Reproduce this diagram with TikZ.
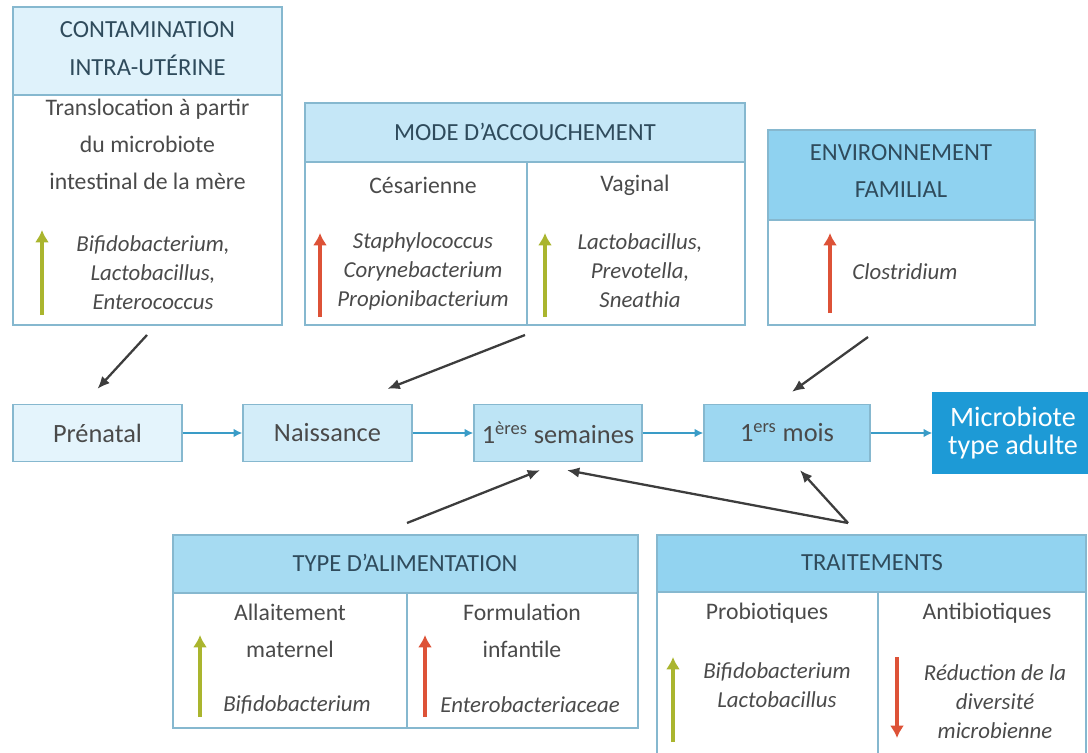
\documentclass[tikz,border=0pt]{standalone}
\usepackage{fontspec}
\setmainfont{Carlito}
\usepackage{tikz}
\usetikzlibrary{arrows.meta,calc,positioning}
\definecolor{bord}{HTML}{86B8CF}
\definecolor{hdrA}{HTML}{DFF2FB}
\definecolor{hdrB}{HTML}{C5E7F7}
\definecolor{hdrC}{HTML}{8FD2F0}
\definecolor{hdrD}{HTML}{A6DBF2}
\definecolor{hdrE}{HTML}{92D3F0}
\definecolor{stA}{HTML}{E4F4FC}
\definecolor{stB}{HTML}{D3EDF9}
\definecolor{stC}{HTML}{BDE4F5}
\definecolor{stD}{HTML}{9DD7F1}
\definecolor{stE}{HTML}{1D9AD6}
\definecolor{flowc}{HTML}{3A9CC7}
\definecolor{inflc}{HTML}{3D3D3D}
\definecolor{hdrtxt}{HTML}{2F4B5C}
\definecolor{bodytxt}{HTML}{4A4A4A}
\definecolor{vert}{HTML}{AAB52E}
\definecolor{rouge}{HTML}{DD5237}
\tikzset{
  tbl/.style={draw=bord,line width=0.8pt},
  hdrtext/.style={text=hdrtxt,align=center,inner sep=0pt,font=\fontsize{14}{21.6}\selectfont},
  bodytext/.style={text=bodytxt,align=center,inner sep=0pt,font=\fontsize{13.5}{21}\selectfont},
  species/.style={text=bodytxt,align=center,inner sep=0pt,font=\fontsize{13}{16.5}\selectfont\itshape},
  stage/.style={draw=bord,line width=0.8pt,minimum height=1.14cm,inner sep=0pt,text=bodytxt,font=\fontsize{15}{18}\selectfont},
  flow/.style={draw=flowc,line width=1.4pt,-{Latex[length=5pt,width=5pt]}},
  infl/.style={draw=inflc,line width=1.3pt,-{Latex[length=7pt,width=6pt]}},
  trend/.style={line width=2pt,-{Latex[length=7pt,width=8pt]}}
}
\begin{document}
\begin{tikzpicture}[x=0.02cm,y=-0.02cm]
\useasboundingbox (0,0) rectangle (1088,753);
%contamination intra-uterine
\draw[tbl,fill=hdrA](13,7)rectangle(282,95);
\draw[tbl](13,95)rectangle(282,325);
\node[hdrtext] (contamtitle) at (147.5,49) {CONTAMINATION\\INTRA-UTÉRINE};
\node[bodytext] (transloc) at (147.5,144) {Translocation à partir\\du microbiote\\intestinal de la mère};
\draw[trend,draw=vert,fill=vert](42,315)--(42,230);
\node[species] (contamsp) at (153,273) {Bifidobacterium,\\Lactobacillus,\\Enterococcus};
%mode d'accouchement
\draw[tbl,fill=hdrB](305,103)rectangle(745,162);
\draw[tbl](305,162)rectangle(745,325);
\draw[tbl](527,162)--(527,325);
\node[hdrtext] (modetitle) at (525,132) {MODE D’ACCOUCHEMENT};
\node[bodytext] (cesar) at (423,185) {Césarienne};
\node[bodytext] (vaginal) at (635,185) {Vaginal};
\draw[trend,draw=rouge,fill=rouge](320,317)--(320,233);
\node[species] (cesarsp) at (423,271) {Staphylococcus\\Corynebacterium\\Propionibacterium};
\draw[trend,draw=vert,fill=vert](545,317)--(545,233);
\node[species] (vaginalsp) at (640,271) {Lactobacillus,\\Prevotella,\\Sneathia};
%environnement familial
\draw[tbl,fill=hdrC](768,130)rectangle(1035,220);
\draw[tbl](768,220)rectangle(1035,325);
\node[hdrtext] (envtitle) at (901,171) {ENVIRONNEMENT\\FAMILIAL};
\draw[trend,draw=rouge,fill=rouge](830,313)--(830,233);
\node[species] (envsp) at (905,272) {Clostridium};
%stages
\node[stage,fill=stA,minimum width=3.38cm] (prenatal) at (97.5,433) {Prénatal};
\node[stage,fill=stB,minimum width=3.38cm] (naissance) at (327.5,433) {Naissance};
\node[stage,fill=stC,minimum width=3.36cm] (semaines) at (558,433) {1\textsuperscript{ères} semaines};
\node[stage,fill=stD,minimum width=3.32cm] (mois) at (787,433) {1\textsuperscript{ers} mois};
\node[stage,fill=stE,draw=stE,text=white,minimum width=3.2cm,minimum height=1.6cm,align=center,font=\fontsize{16}{16.5}\selectfont] (adulte) at (1013,433) {Microbiote\\type adulte};
\draw[flow](prenatal)--(naissance);
\draw[flow](naissance)--(semaines);
\draw[flow](semaines)--(mois);
\draw[flow](mois)--(adulte);
%type d'alimentation
\draw[tbl,fill=hdrD](173,535)rectangle(638,593);
\draw[tbl](173,593)rectangle(638,728);
\draw[tbl](407,593)--(407,728);
\node[hdrtext] (typetitle) at (405,563) {TYPE D’ALIMENTATION};
\node[bodytext] (allait) at (290,631) {Allaitement\\maternel};
\node[bodytext] (formul) at (522,631) {Formulation\\infantile};
\draw[trend,draw=vert,fill=vert](200,717)--(200,635);
\node[species] (allaitsp) at (297,705) {Bifidobacterium};
\draw[trend,draw=rouge,fill=rouge](425,717)--(425,635);
\node[species] (formulsp) at (530,705) {Enterobacteriaceae};
%traitements
\draw[tbl,fill=hdrE](657,535)rectangle(1086,592);
\draw[tbl](657,592)rectangle(1086,760);
\draw[tbl](878,592)--(878,760);
\node[hdrtext] (traittitle) at (872,563) {TRAITEMENTS};
\node[bodytext] (probio) at (767,613) {Probiotiques};
\node[bodytext] (antibio) at (987,613) {Antibiotiques};
\draw[trend,draw=vert,fill=vert](673,742)--(673,657);
\node[species] (probiosp) at (777,685) {Bifidobacterium\\Lactobacillus};
\draw[trend,draw=rouge,fill=rouge](897,657)--(897,738);
\node[species] (antibiosp) at (995,702) {Réduction de la\\diversité\\microbienne};
%influences
\coordinate (contamout) at (147,335);
\coordinate (modeout) at (525,335);
\coordinate (envout) at (868,337);
\coordinate (typeout) at (407,523);
\coordinate (traitout) at (848,523);
\draw[infl](contamout)--($(prenatal.north)+(0,-15)$);
\draw[infl](modeout)--($(naissance.north)+(60,-15)$);
\draw[infl](envout)--($(mois.north)+(5,-12)$);
\draw[infl](typeout)--($(semaines.south)+(-18,8)$);
\draw[infl](traitout)--($(semaines.south)+(9,8)$);
\draw[infl](traitout)--($(mois.south)+(13,8)$);
\end{tikzpicture}
\end{document}
